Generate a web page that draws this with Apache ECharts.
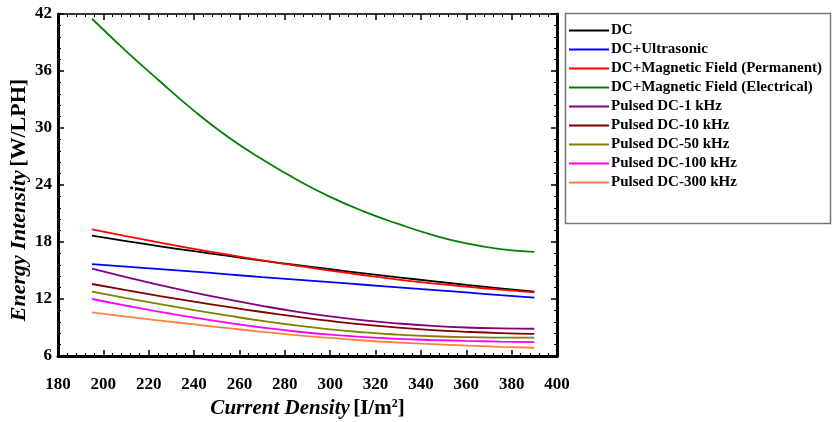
<!DOCTYPE html>
<html>
<head>
<meta charset="utf-8">
<script src="https://cdn.jsdelivr.net/npm/echarts@6/dist/echarts.min.js"></script>
<style>
  html, body { margin: 0; padding: 0; background: #fff; }
  #main { width: 832px; height: 422px; }
</style>
</head>
<body>
<div id="main"></div>
<script>
// current density [I/m2]
var density = [195, 210, 225, 240, 255, 270, 285, 300, 315, 330, 345, 360, 375, 390];

var dc        = [18.67, 18.1, 17.55, 17.03, 16.53, 16.05, 15.58, 15.13, 14.7, 14.28, 13.88, 13.49, 13.12, 12.77];
var dcUltra   = [15.68, 15.41, 15.15, 14.88, 14.6, 14.3, 14.03, 13.77, 13.5, 13.23, 12.96, 12.69, 12.41, 12.14];
var dcMagPerm = [19.34, 18.62, 17.93, 17.28, 16.66, 16.07, 15.51, 14.99, 14.5, 14.05, 13.65, 13.3, 12.98, 12.7];
var dcMagElec = [41.5, 38.1, 34.9, 31.8, 29.05, 26.7, 24.6, 22.75, 21.2, 19.9, 18.75, 17.85, 17.25, 16.95];
var pulsed1   = [15.19, 14.3, 13.45, 12.67, 11.95, 11.28, 10.68, 10.17, 9.75, 9.42, 9.17, 9.0, 8.91, 8.87];
var pulsed10  = [13.58, 12.93, 12.31, 11.72, 11.16, 10.63, 10.14, 9.69, 9.3, 8.98, 8.73, 8.55, 8.41, 8.32];
var pulsed50  = [12.77, 12.1, 11.45, 10.84, 10.25, 9.7, 9.22, 8.8, 8.48, 8.25, 8.08, 7.98, 7.94, 7.93];
var pulsed100 = [12.0, 11.3, 10.65, 10.04, 9.49, 9.0, 8.58, 8.24, 7.98, 7.8, 7.68, 7.59, 7.52, 7.47];
var pulsed300 = [10.6, 10.15, 9.73, 9.33, 8.93, 8.55, 8.2, 7.9, 7.63, 7.42, 7.25, 7.1, 6.97, 6.87];

var names = ['DC', 'DC+Ultrasonic', 'DC+Magnetic Field (Permanent)', 'DC+Magnetic Field (Electrical)',
  'Pulsed DC-1 kHz', 'Pulsed DC-10 kHz', 'Pulsed DC-50 kHz', 'Pulsed DC-100 kHz', 'Pulsed DC-300 kHz'];
var values = [dc, dcUltra, dcMagPerm, dcMagElec, pulsed1, pulsed10, pulsed50, pulsed100, pulsed300];
var colors = ['#000000', '#0000ff', '#ff0000', '#008000', '#800080', '#800000', '#808000', '#ff00ff', '#ff8040'];

var font = 'Liberation Serif, Times New Roman, serif';

var myChart = echarts.init(document.getElementById('main'));

function axisBase(show) {
  return {
    axisLine: { show: true, onZero: false, lineStyle: { color: '#000', width: 3 } },
    axisTick: { show: true, inside: true, length: 6, lineStyle: { color: '#000', width: 1.5 } },
    minorTick: { show: true, splitNumber: 5, length: 3, lineStyle: { color: '#000', width: 1 } },
    splitLine: { show: false },
    axisLabel: { show: show, color: '#000', fontFamily: font, fontWeight: 'bold', fontSize: 17 }
  };
}

var xBottom = Object.assign(axisBase(true), {
  type: 'value', min: 180, max: 400, interval: 20, position: 'bottom',
  name: '{i|Current Density} {n|[I/m}{s|2}{n|]}',
  nameLocation: 'middle', nameGap: 42,
  nameTextStyle: {
    rich: {
      i: { fontFamily: font, fontStyle: 'italic', fontWeight: 'bold', fontSize: 21, color: '#000' },
      n: { fontFamily: font, fontWeight: 'bold', fontSize: 21, color: '#000' },
      s: { fontFamily: font, fontWeight: 'bold', fontSize: 12, color: '#000', padding: [0, 0, 10, 0] }
    }
  }
});
xBottom.axisLabel.margin = 20;
var xTop = Object.assign(axisBase(false), { type: 'value', min: 180, max: 400, interval: 20, position: 'top' });
xTop.axisLine.lineStyle.color = '#333';
xTop.axisLine.lineStyle.width = 2;

var yLeft = Object.assign(axisBase(true), { type: 'value', min: 6, max: 42, interval: 6, position: 'left' });
yLeft.axisLabel.margin = 6;
var yRight = Object.assign(axisBase(false), { type: 'value', min: 6, max: 42, interval: 6, position: 'right' });

var series = names.map(function (n, i) {
  return {
    name: n,
    type: 'line',
    data: density.map(function (x, j) { return [x, values[i][j]]; }),
    smooth: true,
    symbol: 'none',
    lineStyle: { color: colors[i], width: 1.8 },
    itemStyle: { color: colors[i] },
    xAxisIndex: 0,
    yAxisIndex: 0
  };
});

var option = {
  animation: false,
  grid: { left: 58, right: 275, top: 14, bottom: 66, outerBoundsMode: 'none' },
  xAxis: [xBottom, xTop],
  yAxis: [yLeft, yRight],
  legend: {
    orient: 'vertical',
    left: 569, top: 23,
    padding: 0,
    icon: 'rect',
    itemWidth: 40, itemHeight: 2, itemGap: 4,
    data: names,
    textStyle: { fontFamily: font, fontWeight: 'bold', fontSize: 15, lineHeight: 15, color: '#000', padding: [0, 0, 0, -3] }
  },
  graphic: [{
    type: 'rect',
    shape: { x: 565.5, y: 13.5, width: 265, height: 210 },
    style: { fill: 'none', stroke: '#777', lineWidth: 1.5 }
  }, {
    // y axis title
    type: 'text',
    x: 19, y: 200,
    rotation: Math.PI / 2,
    style: {
      text: '{i|Energy Intensity} {n|[W/LPH]}',
      align: 'center', verticalAlign: 'middle',
      rich: {
        i: { fontFamily: font, fontStyle: 'italic', fontWeight: 'bold', fontSize: 22, fill: '#000' },
        n: { fontFamily: font, fontWeight: 'bold', fontSize: 22, fill: '#000' }
      }
    }
  }],
  series: series
};

myChart.setOption(option);
</script>
</body>
</html>
